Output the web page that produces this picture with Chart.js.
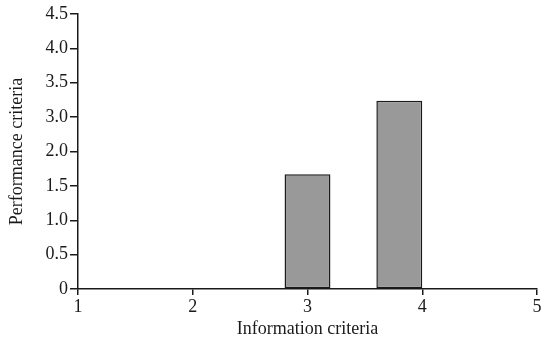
<!DOCTYPE html>
<html>
<head>
<meta charset="utf-8">
<script src="https://cdn.jsdelivr.net/npm/chart.js@4/dist/chart.umd.min.js"></script>
<style>
  html, body { margin: 0; padding: 0; background: #fff; }
  #wrap { width: 543px; height: 346px; }
</style>
</head>
<body>
<div id="wrap"><canvas id="chart" width="543" height="346"></canvas></div>
<script>
// bar centres on the information axis
const barCentres = [3.0, 3.8];
// bar heights in the y scale's own units (0..4, one step per printed label)
const barHeights = [1.67, 2.74];

// labels printed on the y axis (the original skips 2.5)
const yTickLabels = ['0', '0.5', '1.0', '1.5', '2.0', '3.0', '3.5', '4.0', '4.5'];
const xTicks = [1, 2, 3, 4, 5];

const font = { family: '"Liberation Serif", "Times New Roman", serif', size: 18 };
const ink = '#1a1a1a';

new Chart(document.getElementById('chart'), {
  type: 'bar',
  data: {
    datasets: [
      {
        data: barCentres.map((x, i) => ({ x, y: barHeights[i] })),
        backgroundColor: '#999999',
        borderColor: ink,
        borderWidth: 1.5,
        borderSkipped: false,
        categoryPercentage: 0.5,
        barPercentage: 1,
      },
    ],
  },
  options: {
    responsive: false,
    animation: false,
    layout: { padding: { top: 14, right: 6, left: 0, bottom: 0 } },
    plugins: { legend: { display: false }, tooltip: { enabled: false } },
    scales: {
      x: {
        type: 'linear',
        min: 1,
        max: 5,
        offset: false,
        afterBuildTicks: (s) => { s.ticks = xTicks.map((v) => ({ value: v })); },
        ticks: { color: ink, font, padding: 1, maxRotation: 0 },
        grid: { offset: false, drawOnChartArea: false, tickLength: 6, color: ink, lineWidth: 1.5 },
        border: { color: ink, width: 1.5 },
        title: { display: true, text: 'Information criteria', color: ink, font, padding: { top: 0, bottom: 6 } },
        afterFit: (s) => { s.height = 57; },
      },
      y: {
        min: 0,
        max: 4,
        ticks: {
          stepSize: 0.5,
          color: ink,
          font,
          padding: 2,
          callback: (v, i) => yTickLabels[i],
        },
        grid: { drawOnChartArea: false, tickLength: 8, color: ink, lineWidth: 1.5 },
        border: { color: ink, width: 1.5 },
        title: { display: true, text: 'Performance criteria', color: ink, font, padding: { top: 6, bottom: 0 } },
        afterFit: (s) => { s.width = 78; },
      },
    },
  },
});
</script>
</body>
</html>
